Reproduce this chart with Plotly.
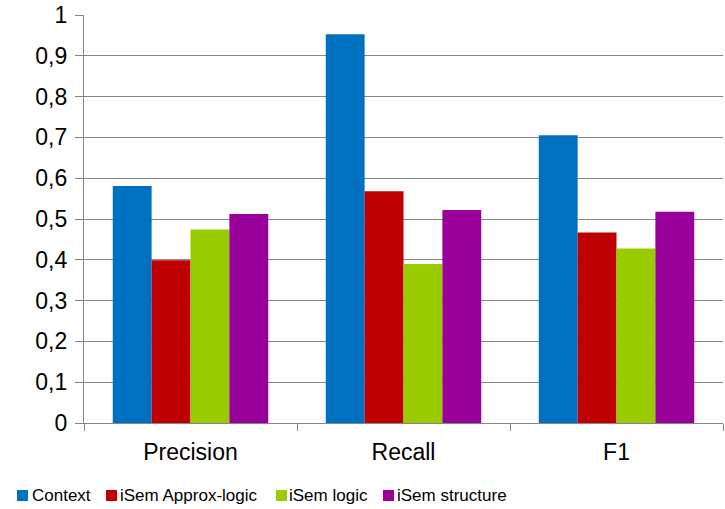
import plotly.graph_objects as go

categories = ["Precision", "Recall", "F1"]
series_names = ["Context", "iSem Approx-logic", "iSem logic", "iSem structure"]
context = [0.581, 0.953, 0.705]
approx_logic = [0.399, 0.568, 0.467]
isem_logic = [0.474, 0.390, 0.428]
isem_structure = [0.512, 0.522, 0.518]
colors = ["#0070C0", "#C00000", "#99CC00", "#990099"]
y_ticks = [0, 0.1, 0.2, 0.3, 0.4, 0.5, 0.6, 0.7, 0.8, 0.9, 1]

series_values = [context, approx_logic, isem_logic, isem_structure]

fig = go.Figure()
for name, vals, col in zip(series_names, series_values, colors):
    fig.add_trace(go.Bar(x=categories, y=vals, name=name, marker_color=col,
                         marker_line_width=0, showlegend=False))

grid_col = "#868686"
fig.update_layout(
    width=725, height=509,
    margin=dict(l=84, r=2, t=15, b=86, autoexpand=False),
    plot_bgcolor="white", paper_bgcolor="white",
    barmode="group", bargap=0.27, bargroupgap=0,
    separators=", ",
    font=dict(family="Liberation Sans, Arial, sans-serif", size=23, color="black"),
)
fig.update_yaxes(range=[0, 1], tickvals=y_ticks, showgrid=True, gridcolor=grid_col,
                 gridwidth=1.3, showline=True, linecolor=grid_col, linewidth=1.3,
                 ticks="outside", ticklen=8, tickcolor=grid_col, tickwidth=1.3,
                 ticklabelstandoff=3, ticklabeloverflow="allow",
                 zeroline=False, automargin=False)
fig.update_xaxes(showline=True, linecolor=grid_col, linewidth=1.3, ticks="outside",
                 tickson="boundaries", ticklen=7, tickcolor=grid_col, tickwidth=1.3,
                 ticklabelstandoff=8, showgrid=False, automargin=False)

# manual legend (positions in page pixels, converted to plot-area fractions)
plot_left, plot_bottom, plot_w, plot_h = 84, 423, 639, 408
sq_x = [17, 106, 276, 383]
txt_x = [30, 118, 287, 395]
for i, (name, col) in enumerate(zip(series_names, colors)):
    fig.add_shape(type="rect", xref="paper", yref="paper",
                  x0=(sq_x[i] - plot_left) / plot_w, x1=(sq_x[i] + 11 - plot_left) / plot_w,
                  y0=(plot_bottom - 501) / plot_h, y1=(plot_bottom - 490) / plot_h,
                  fillcolor=col, line_width=0)
    fig.add_annotation(text=name, xref="paper", yref="paper",
                       x=(txt_x[i] - plot_left) / plot_w, y=(plot_bottom - 495) / plot_h,
                       xanchor="left", yanchor="middle", showarrow=False,
                       font=dict(family="Liberation Sans, Arial, sans-serif", size=17))

fig.write_html("out.html", config={"displayModeBar": False},
               post_script="document.body.style.margin='0';document.body.style.overflow='hidden';")
